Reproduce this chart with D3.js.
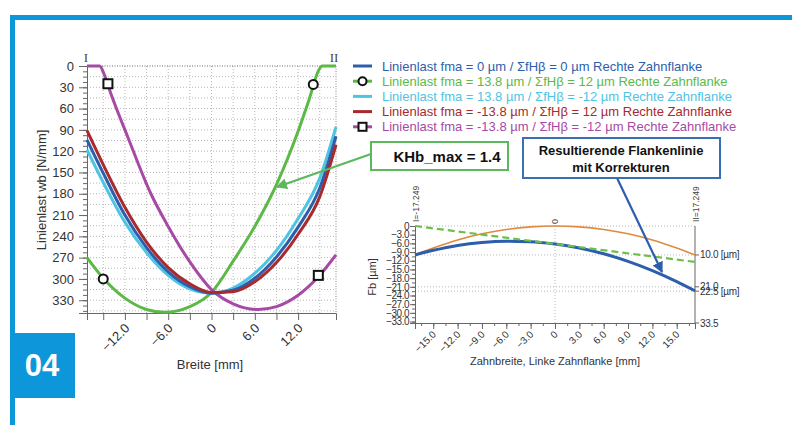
<!DOCTYPE html>
<meta charset="utf-8">
<style>
body { margin: 0; background: #fff; }
svg { font-family: "Liberation Sans", Arial, sans-serif; }
.grid line { stroke: #b8b8b8; stroke-dasharray: 1,2; }
.axis path, .axis line { stroke: #666; }
.axis text { fill: #333; }
.curve { fill: none; }
</style>
<body>
<script src="https://cdn.jsdelivr.net/npm/d3@7"></script>
<script>

// ---- left chart: Linienlast over Breite ----
var breite    = [-17.249, -15, -12, -9, -6, -3, 0, 3, 6, 9, 12, 15, 17.249];
var lastBlue  = [104, 151, 210, 256, 290, 311, 320, 316, 299, 269, 227, 172, 99];
var lastCyan  = [118, 164, 220, 263, 295, 314, 320, 313, 292, 260, 215, 158, 86];
var lastRed   = [91, 139, 199, 248, 284, 307, 319, 318, 304, 277, 237, 184, 111];

var breiteGreen = [-17.249, -15, -12, -9, -6.5, -3, 0, 3, 6, 9, 12, 13.5, 14.9, 15.3, 17.249];
var lastGreen   = [270, 299, 327, 343, 347, 339, 319, 275, 226, 167, 92, 48, 5, 0, 0];

var breitePurple = [-17.249, -15.5, -14.9, -13.9, -11.6, -8.4, -6, -3, 0, 3, 6.5, 9, 12, 14.8, 17.249];
var lastPurple   = [0, 0, 11, 40, 100, 180, 226, 276, 315, 335, 343, 339, 323, 297, 266];

var circleMarks = [[-15, 300], [14.1, 26]];
var squareMarks = [[-14.35, 25], [14.8, 295]];

var legendLabels = [
  "Linienlast fma = 0 µm / ΣfHβ = 0 µm Rechte Zahnflanke",
  "Linienlast fma = 13.8 µm / ΣfHβ = 12 µm Rechte Zahnflanke",
  "Linienlast fma = 13.8 µm / ΣfHβ = -12 µm Rechte Zahnflanke",
  "Linienlast fma = -13.8 µm / ΣfHβ = 12 µm Rechte Zahnflanke",
  "Linienlast fma = -13.8 µm / ΣfHβ = -12 µm Rechte Zahnflanke"
];
var legendColors = ["#2d5eab", "#5cb947", "#4fc3e3", "#a82a2c", "#a64aa6"];

// ---- right chart: Flankenlinie ----
var zahnbreite   = [-17.249, -15, -12, -9, -6, -3, 0, 3, 6, 9, 12, 15, 17.249];
var korrektur    = [-10, -7.6, -4.8, -2.7, -1.2, -0.3, 0, -0.3, -1.2, -2.7, -4.8, -7.6, -10];
var resultierend = [-10, -8.4, -6.7, -5.7, -5.3, -5.4, -6.2, -7.6, -9.6, -12.2, -15.4, -19.2, -22.4];
var schraegX     = [-17.249, 17.249];
var schraeg      = [0, -12.4];
var refLines     = [0, -10, -21, -22.5];
var rightLabels  = [[-10, "10.0 [µm]"], [-21, "21.0"], [-22.5, "22.5 [µm]"], [-33.5, "33.5"]];

var frameBlue = "#0d96da";

var svg = d3.select("body").append("svg")
    .attr("width", 804)
    .attr("height", 425);

var defs = svg.append("defs");
function arrowHead(id, color) {
  defs.append("marker")
      .attr("id", id)
      .attr("viewBox", "0 0 10 10")
      .attr("refX", 9).attr("refY", 5)
      .attr("markerWidth", 5).attr("markerHeight", 5)
      .attr("orient", "auto")
    .append("path")
      .attr("d", "M0,0L10,5L0,10z")
      .attr("fill", color);
}
arrowHead("arrGreen", "#5cb85c");
arrowHead("arrBlue", "#2d5eab");

// frame
svg.append("rect").attr("x", 10).attr("y", 15).attr("width", 782).attr("height", 5).attr("fill", frameBlue);
svg.append("rect").attr("x", 10).attr("y", 15).attr("width", 5).attr("height", 410).attr("fill", frameBlue);
svg.append("rect").attr("x", 10).attr("y", 333).attr("width", 65).attr("height", 65).attr("fill", frameBlue);
svg.append("text").attr("x", 42).attr("y", 376)
    .attr("text-anchor", "middle")
    .attr("font-size", 31).attr("font-weight", "bold")
    .attr("fill", "#fff")
    .text("04");

// ================= left chart =================
var x1 = d3.scaleLinear().domain([-17.249, 17.249]).range([87, 336]);
var y1 = d3.scaleLinear().domain([0, 348]).range([66, 313]);

var g1 = svg.append("g");

// grid
var grid1 = g1.append("g").attr("class", "grid");
grid1.selectAll(".h").data(d3.range(15, 346, 15)).enter().append("line")
    .attr("x1", x1(-17.249)).attr("x2", x1(17.249))
    .attr("y1", d => y1(d)).attr("y2", d => y1(d));
grid1.selectAll(".v").data(d3.range(-15, 16, 3)).enter().append("line")
    .attr("x1", d => x1(d)).attr("x2", d => x1(d))
    .attr("y1", y1(0)).attr("y2", y1(348));
g1.append("line").attr("x1", x1(-17.249)).attr("x2", x1(17.249))
    .attr("y1", y1(0)).attr("y2", y1(0))
    .attr("stroke", "#666").attr("stroke-dasharray", "1,1.5");
g1.append("line").attr("x1", x1(17.249)).attr("x2", x1(17.249))
    .attr("y1", y1(0)).attr("y2", y1(348))
    .attr("stroke", "#888").attr("stroke-dasharray", "1,1.5");

// axes
g1.append("g").attr("class", "axis")
    .attr("transform", "translate(" + x1(-17.249) + ",0)")
    .call(d3.axisLeft(y1).tickValues(d3.range(0, 348, 7.5)).tickSize(4).tickFormat(""));
g1.append("g").attr("class", "axis")
    .attr("transform", "translate(" + x1(-17.249) + ",0)")
    .call(d3.axisLeft(y1).tickValues(d3.range(0, 331, 30)).tickSize(8).tickPadding(5)
          .tickFormat(d3.format("d")))
    .call(a => a.selectAll("text").attr("font-size", 13));

g1.append("g").attr("class", "axis")
    .attr("transform", "translate(0," + y1(348) + ")")
    .call(d3.axisBottom(x1).tickValues(d3.range(-15, 13, 3)).tickSize(7)
          .tickFormat(d => d % 6 === 0 ? (d === 0 ? "0" : d3.format(".1f")(d)) : ""))
    .call(a => a.selectAll("text")
        .attr("font-size", 13)
        .attr("text-anchor", "end")
        .attr("dy", null).attr("y", 0)
        .attr("transform", "translate(5,16) rotate(-45)"));

g1.append("text").attr("x", 210).attr("y", 369)
    .attr("text-anchor", "middle").attr("font-size", 13).attr("fill", "#333")
    .text("Breite [mm]");
g1.append("text")
    .attr("transform", "translate(46,190) rotate(-90)")
    .attr("text-anchor", "middle").attr("font-size", 13).attr("fill", "#333")
    .text("Linienlast wb [N/mm]");
g1.append("text").attr("x", 86).attr("y", 62).attr("text-anchor", "middle")
    .attr("font-family", "Liberation Serif, serif").attr("font-size", 13).attr("fill", "#444").text("I");
g1.append("text").attr("x", 334).attr("y", 62).attr("text-anchor", "middle")
    .attr("font-family", "Liberation Serif, serif").attr("font-size", 13).attr("fill", "#444").text("II");

// curves
var line1 = d3.line().curve(d3.curveMonotoneX).x(d => x1(d[0])).y(d => y1(d[1]));
var curves1 = [
  [breiteGreen, lastGreen, legendColors[1]],
  [breitePurple, lastPurple, legendColors[4]],
  [breite, lastCyan, legendColors[2]],
  [breite, lastBlue, legendColors[0]],
  [breite, lastRed, legendColors[3]]
];
curves1.forEach(function(c) {
  g1.append("path").attr("class", "curve")
      .datum(d3.zip(c[0], c[1]))
      .attr("d", line1)
      .attr("stroke", c[2]).attr("stroke-width", 3);
});

g1.selectAll(".cm").data(circleMarks).enter().append("circle")
    .attr("cx", d => x1(d[0])).attr("cy", d => y1(d[1])).attr("r", 4.5)
    .attr("fill", "#fff").attr("stroke", "#111").attr("stroke-width", 2);
g1.selectAll(".sm").data(squareMarks).enter().append("rect")
    .attr("x", d => x1(d[0]) - 4.5).attr("y", d => y1(d[1]) - 4.5)
    .attr("width", 9).attr("height", 9)
    .attr("fill", "#fff").attr("stroke", "#111").attr("stroke-width", 2);

// legend
var leg = svg.append("g").attr("transform", "translate(352,66)");
legendLabels.forEach(function(t, i) {
  var row = leg.append("g").attr("transform", "translate(0," + (i * 15.2) + ")");
  row.append("line").attr("x1", 1).attr("x2", 20).attr("y1", 0).attr("y2", 0)
      .attr("stroke", legendColors[i]).attr("stroke-width", 3);
  if (i === 1) row.append("circle").attr("cx", 10.5).attr("cy", 0).attr("r", 4)
      .attr("fill", "#fff").attr("stroke", "#111").attr("stroke-width", 2);
  if (i === 4) row.append("rect").attr("x", 6.5).attr("y", -4).attr("width", 8).attr("height", 8)
      .attr("fill", "#fff").attr("stroke", "#111").attr("stroke-width", 2);
  row.append("text").attr("x", 30).attr("y", 4.5)
      .attr("font-size", 13).attr("fill", legendColors[i])
      .text(t);
});

// ================= right chart =================
var x2 = d3.scaleLinear().domain([-17.249, 17.249]).range([415, 695]);
var y2 = d3.scaleLinear().domain([0, -33.5]).range([226, 323]);
var g2 = svg.append("g");

var grid2 = g2.append("g").attr("class", "grid");
grid2.selectAll(".h").data(refLines).enter().append("line")
    .attr("x1", x2(-17.249)).attr("x2", x2(17.249))
    .attr("y1", d => y2(d)).attr("y2", d => y2(d))
    .attr("stroke", "#999");
grid2.append("line")
    .attr("x1", x2(0)).attr("x2", x2(0)).attr("y1", y2(0)).attr("y2", y2(-33.5))
    .attr("stroke", "#999");

g2.append("g").attr("class", "axis")
    .attr("transform", "translate(" + x2(-17.249) + ",0)")
    .call(d3.axisLeft(y2).tickValues(d3.range(0, -33.6, -1.5)).tickSize(3).tickFormat(""));
g2.append("g").attr("class", "axis")
    .attr("transform", "translate(" + x2(-17.249) + ",0)")
    .call(d3.axisLeft(y2).tickValues(d3.range(0, -33.1, -3)).tickSize(5).tickPadding(1)
          .tickFormat(d => d === 0 ? "0" : d3.format(".1f")(d)))
    .call(a => a.selectAll("text").attr("font-size", 10).attr("letter-spacing", -0.5));

g2.append("g").attr("class", "axis")
    .attr("transform", "translate(0," + y2(-33.5) + ")")
    .call(d3.axisBottom(x2).tickValues(d3.range(-16.5, 16.6, 1.5)).tickSize(3).tickFormat(""));
g2.append("g").attr("class", "axis")
    .attr("transform", "translate(0," + y2(-33.5) + ")")
    .call(d3.axisBottom(x2).tickValues(d3.range(-15, 15.1, 3)).tickSize(6)
          .tickFormat(d => d === 0 ? "0" : d3.format(".1f")(d)))
    .call(a => a.selectAll("text")
        .attr("font-size", 10).attr("text-anchor", "end")
        .attr("dy", null).attr("y", 0)
        .attr("transform", "translate(3,12) rotate(-45)"));

// right axis with marks
var rax = g2.append("g").attr("class", "axis")
    .attr("transform", "translate(" + x2(17.249) + ",0)");
rax.append("line").attr("y1", y2(0)).attr("y2", y2(-33.5)).attr("stroke", "#888");
rax.selectAll(".rt").data(rightLabels).enter().append("line")
    .attr("x1", 0).attr("x2", 4).attr("y1", d => y2(d[0])).attr("y2", d => y2(d[0]))
    .attr("stroke", "#666");
rax.selectAll(".rl").data(rightLabels).enter().append("text")
    .attr("x", 5).attr("y", d => y2(d[0]) + 3.5)
    .attr("font-size", 10).attr("fill", "#444").attr("letter-spacing", -0.3)
    .text(d => d[1]);

g2.append("text").attr("transform", "translate(419,222) rotate(-90)")
    .attr("font-size", 8.5).attr("fill", "#444").text("I=-17.249");
g2.append("text").attr("transform", "translate(699,222) rotate(-90)")
    .attr("font-size", 8.5).attr("fill", "#444").text("II=17.249");
g2.append("text").attr("transform", "translate(558,224) rotate(-90)")
    .attr("font-size", 9).attr("fill", "#444").text("0");

g2.append("text").attr("x", 555).attr("y", 365)
    .attr("text-anchor", "middle").attr("font-size", 11).attr("fill", "#333")
    .text("Zahnbreite, Linke Zahnflanke [mm]");
g2.append("text").attr("transform", "translate(376,277) rotate(-90)")
    .attr("text-anchor", "middle").attr("font-size", 11).attr("fill", "#333")
    .text("Fb [µm]");

var line2 = d3.line().curve(d3.curveMonotoneX).x(d => x2(d[0])).y(d => y2(d[1]));
g2.append("path").attr("class", "curve").datum(d3.zip(zahnbreite, korrektur))
    .attr("d", line2).attr("stroke", "#e08a40").attr("stroke-width", 1.6);
g2.append("path").attr("class", "curve").datum(d3.zip(zahnbreite, resultierend))
    .attr("d", line2).attr("stroke", "#2d5eab").attr("stroke-width", 3);
g2.append("path").attr("class", "curve").datum(d3.zip(schraegX, schraeg))
    .attr("d", line2).attr("stroke", "#6cc04a").attr("stroke-width", 2.2)
    .attr("stroke-dasharray", "7,4");

// ================= annotations =================
svg.append("line").attr("x1", 371).attr("y1", 154).attr("x2", 277).attr("y2", 187)
    .attr("stroke", "#5cb85c").attr("stroke-width", 2.2).attr("marker-end", "url(#arrGreen)");
svg.append("rect").attr("x", 371).attr("y", 142).attr("width", 137).attr("height", 28)
    .attr("fill", "#fff").attr("stroke", "#5cb85c").attr("stroke-width", 2);
svg.append("text").attr("x", 447).attr("y", 162).attr("text-anchor", "middle")
    .attr("font-size", 15).attr("font-weight", "bold").attr("fill", "#111")
    .text("KHb_max = 1.4");

svg.append("line").attr("x1", 617).attr("y1", 178).attr("x2", 662).attr("y2", 272)
    .attr("stroke", "#2d5eab").attr("stroke-width", 2.2).attr("marker-end", "url(#arrBlue)");
svg.append("rect").attr("x", 523).attr("y", 138).attr("width", 197).attr("height", 40)
    .attr("fill", "#fff").attr("stroke", "#3a6fb7").attr("stroke-width", 2);
svg.append("text").attr("x", 621).attr("y", 155).attr("text-anchor", "middle")
    .attr("font-size", 13).attr("font-weight", "bold").attr("fill", "#111")
    .text("Resultierende Flankenlinie");
svg.append("text").attr("x", 621).attr("y", 172).attr("text-anchor", "middle")
    .attr("font-size", 13).attr("font-weight", "bold").attr("fill", "#111")
    .text("mit Korrekturen");

</script>
</body>
